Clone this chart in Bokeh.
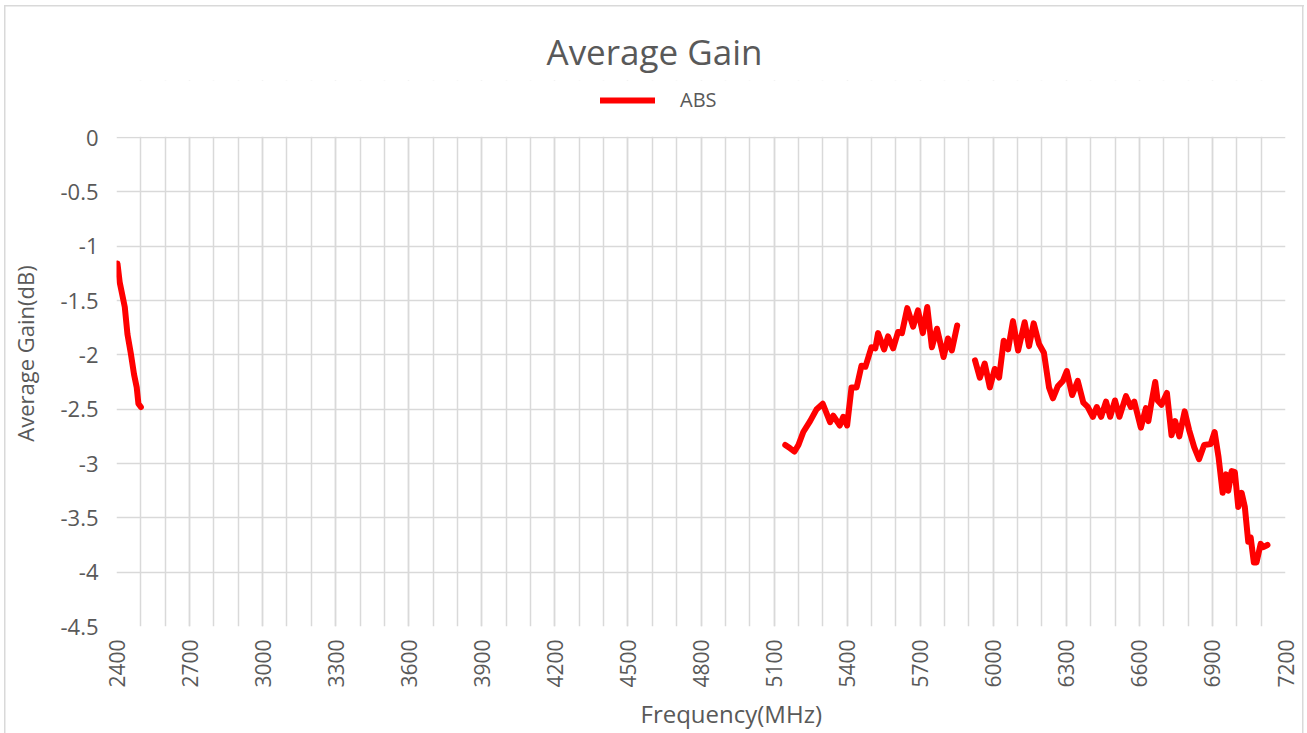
import numpy as np
from bokeh.plotting import figure
from bokeh.models import FixedTicker, Range1d, Title, Legend, LegendItem, BoxAnnotation
from bokeh.embed import file_html
from bokeh.resources import INLINE

FONT = "Open Sans"
GREY = "#595959"
GRID = "#d9d9d9"

# ---- data ----
seg1_freq = [2404, 2413, 2434, 2445, 2459, 2472, 2483, 2490, 2500]
seg1_gain = [-1.16, -1.33, -1.56, -1.81, -1.99, -2.18, -2.30, -2.45, -2.48]

seg2_freq = [5146, 5166, 5184, 5200, 5220, 5248, 5275, 5300, 5330, 5343, 5370, 5384,
             5400, 5418, 5439, 5459, 5475, 5500, 5516, 5527, 5552, 5568, 5589, 5609,
             5625, 5647, 5671, 5691, 5711, 5729, 5748, 5769, 5796, 5814, 5830, 5852]
seg2_gain = [-2.83, -2.86, -2.89, -2.83, -2.71, -2.61, -2.50, -2.45, -2.62, -2.56, -2.65, -2.57,
             -2.65, -2.30, -2.30, -2.10, -2.11, -1.93, -1.94, -1.80, -1.95, -1.83, -1.94, -1.79,
             -1.80, -1.57, -1.74, -1.59, -1.80, -1.56, -1.93, -1.76, -2.02, -1.85, -1.96, -1.73]

seg3_freq = [5925, 5945, 5965, 5986, 6006, 6024, 6043, 6061, 6081, 6102, 6129, 6147,
             6166, 6188, 6208, 6229, 6245, 6265, 6286, 6302, 6324, 6347, 6370, 6388,
             6409, 6425, 6443, 6463, 6480, 6500, 6518, 6545, 6565, 6579, 6606, 6627,
             6637, 6648, 6665, 6675, 6691, 6713, 6732, 6747, 6764, 6786, 6804, 6825,
             6845, 6866, 6893, 6909, 6925, 6942, 6956, 6965, 6979, 6992, 7006, 7020,
             7033, 7047, 7057, 7070, 7081, 7098, 7109, 7126]
seg3_gain = [-2.05, -2.21, -2.08, -2.30, -2.13, -2.21, -1.87, -1.95, -1.69, -1.96, -1.70, -1.92,
             -1.71, -1.90, -1.98, -2.30, -2.40, -2.29, -2.24, -2.15, -2.37, -2.24, -2.44, -2.48,
             -2.57, -2.48, -2.57, -2.43, -2.57, -2.42, -2.57, -2.38, -2.48, -2.43, -2.67, -2.49,
             -2.61, -2.46, -2.25, -2.42, -2.46, -2.35, -2.74, -2.61, -2.75, -2.52, -2.69, -2.85,
             -2.96, -2.83, -2.82, -2.71, -2.94, -3.27, -3.10, -3.25, -3.07, -3.08, -3.40, -3.27,
             -3.40, -3.72, -3.68, -3.91, -3.91, -3.74, -3.77, -3.75]

x_ticks = list(range(2400, 7201, 300))
x_minor = list(range(2400, 7201, 100))
y_ticks = [0, -0.5, -1, -1.5, -2, -2.5, -3, -3.5, -4, -4.5]
y_tick_labels = ["0", "-0.5", "-1", "-1.5", "-2", "-2.5", "-3", "-3.5", "-4", "-4.5"]
y_min, y_max = -4.5, 0.0

series_name = "ABS"
chart_title = "Average Gain"
x_title = "Frequency(MHz)"
y_title = "Average Gain(dB)"

# join segments with gaps
freq = seg1_freq + [np.nan] + seg2_freq + [np.nan] + seg3_freq
gain = seg1_gain + [np.nan] + seg2_gain + [np.nan] + seg3_gain

W, H = 1307, 733
TOP, BOTTOM, LEFT, RIGHT = 80, 107, 116, 22
PLOT_TOP_PX = 137  # where value 0 sits; the band above holds the legend
px_per_unit = (H - BOTTOM - PLOT_TOP_PX) / (y_max - y_min)
y_top = y_max + (PLOT_TOP_PX - TOP) / px_per_unit

p = figure(width=W, height=H, output_backend="svg", toolbar_location=None,
           x_range=Range1d(2400, 7200), y_range=Range1d(y_min, y_top),
           min_border_left=LEFT, min_border_right=RIGHT,
           min_border_top=TOP, min_border_bottom=BOTTOM)
p.outline_line_color = None
p.background_fill_color = "white"
p.border_fill_color = "white"
p.border_fill_alpha = 0.0
# light chart-area border like the spreadsheet chart (top, left and right edges)
p.styles = {
    "background-color": "white",
    "background-image": ("linear-gradient(#d9d9d9,#d9d9d9), linear-gradient(#d9d9d9,#d9d9d9), "
                         "linear-gradient(#d9d9d9,#d9d9d9)"),
    "background-size": "1.5px 740px, 1300px 1.5px, 1.5px 740px",
    "background-position": "4px 4.5px, 4px 4.5px, 1302px 4.5px",
    "background-repeat": "no-repeat",
}

# axes
xa = p.xaxis[0]
xa.ticker = FixedTicker(ticks=x_ticks, minor_ticks=x_minor)
xa.major_label_orientation = np.pi / 2
xa.axis_line_color = None
xa.major_tick_line_color = None
xa.minor_tick_line_color = None
xa.major_tick_out = 0
xa.major_tick_in = 0
xa.minor_tick_out = 0
xa.minor_tick_in = 0
xa.major_label_text_font = FONT
xa.major_label_text_font_size = "21px"
xa.major_label_text_color = GREY
xa.major_label_standoff = 13

ya = p.yaxis[0]
ya.ticker = FixedTicker(ticks=y_ticks)
ya.major_label_overrides = {v: s for v, s in zip(y_ticks, y_tick_labels)}
ya.axis_line_color = None
ya.major_tick_line_color = None
ya.minor_tick_line_color = None
ya.major_tick_out = 0
ya.major_tick_in = 0
ya.minor_tick_out = 0
ya.minor_tick_in = 0
ya.major_label_text_font = FONT
ya.major_label_text_font_size = "22px"
ya.major_label_text_color = GREY
ya.major_label_standoff = 18
ya.axis_label = y_title
ya.axis_label_text_font = FONT
ya.axis_label_text_font_size = "22px"
ya.axis_label_text_font_style = "normal"
ya.axis_label_text_color = GREY
ya.axis_label_standoff = 17

xt = Title(text=x_title, align="left", offset=524, text_font=FONT,
           text_font_size="24px", text_font_style="normal", text_color=GREY, standoff=8)
p.add_layout(xt, "below")

t = Title(text=chart_title, align="left", offset=430, text_font=FONT,
          text_font_size="35px", text_font_style="normal", text_color=GREY, standoff=12)
p.add_layout(t, "above")

p.xgrid.grid_line_color = GRID
p.xgrid.grid_line_width = 1.5
p.xgrid.minor_grid_line_color = GRID
p.xgrid.minor_grid_line_width = 1.5
p.ygrid.grid_line_color = GRID
p.ygrid.grid_line_width = 1.5

r = p.line(freq, gain, line_color="#ff0000", line_width=6,
           line_join="round", line_cap="round")

# white band hiding the vertical grid above the 0 line (legend area)
mask = BoxAnnotation(bottom=y_max + 0.8 / px_per_unit, fill_color="white", fill_alpha=1.0,
                     line_color=None)
p.add_layout(mask)

legend = Legend(items=[LegendItem(label=series_name, renderers=[r])],
                location=(484, (H - BOTTOM - 99) - 14), orientation="horizontal",
                glyph_width=55, glyph_height=24, label_standoff=25,
                padding=0, margin=0, border_line_color=None,
                background_fill_alpha=0,
                label_text_font=FONT, label_text_font_size="20px",
                label_text_color=GREY)
p.add_layout(legend, "center")

open("out.html", "w").write(file_html(p, INLINE))
